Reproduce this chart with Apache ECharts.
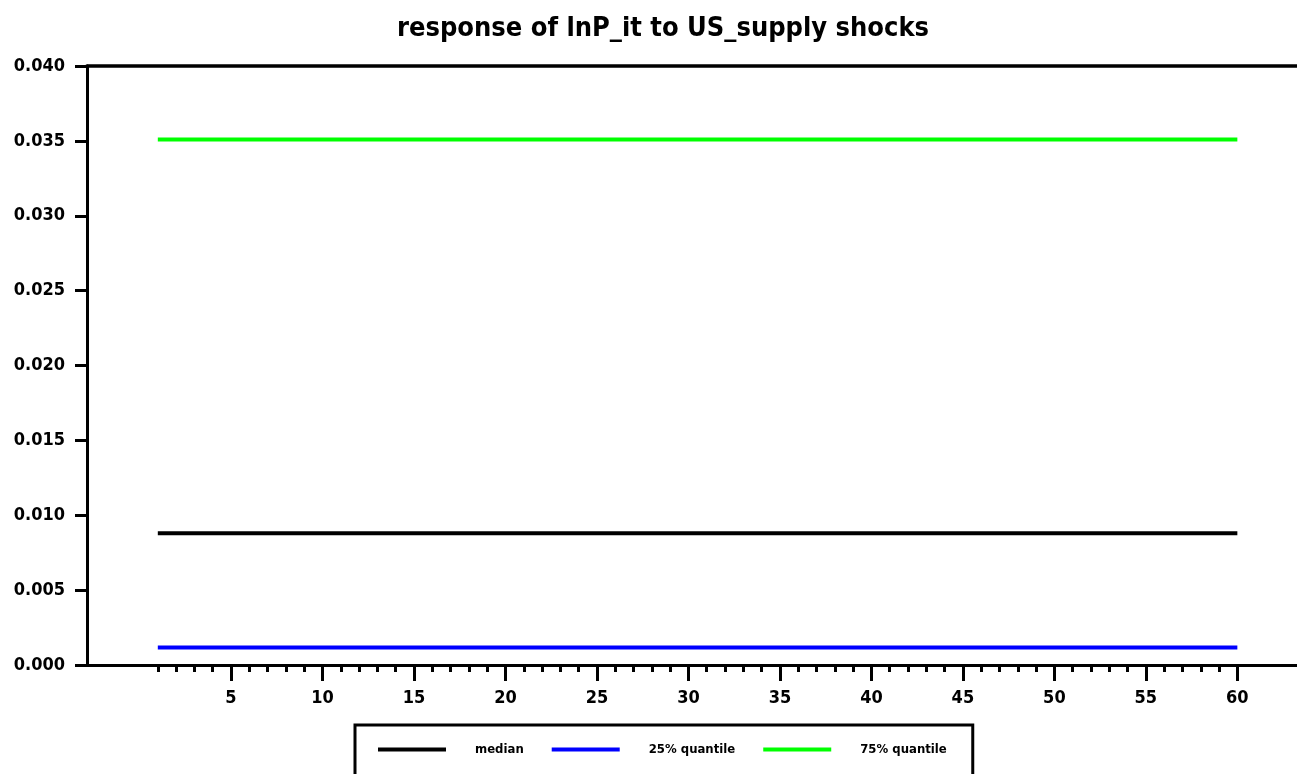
<!DOCTYPE html>
<html>
<head>
<meta charset="utf-8">
<script src="https://cdn.jsdelivr.net/npm/echarts@6/dist/echarts.min.js"></script>
<style>
html,body{margin:0;padding:0;background:#fff;}
#chart{width:1297px;height:774px;}
</style>
</head>
<body>
<div id="chart"></div>
<script>
const titleText = "response of lnP_it to US_supply shocks";
const periods = [1,2,3,4,5,6,7,8,9,10,11,12,13,14,15,16,17,18,19,20,21,22,23,24,25,26,27,28,29,30,31,32,33,34,35,36,37,38,39,40,41,42,43,44,45,46,47,48,49,50,51,52,53,54,55,56,57,58,59,60];
const median = [0.0088,0.0088,0.0088,0.0088,0.0088,0.0088,0.0088,0.0088,0.0088,0.0088,0.0088,0.0088,0.0088,0.0088,0.0088,0.0088,0.0088,0.0088,0.0088,0.0088,0.0088,0.0088,0.0088,0.0088,0.0088,0.0088,0.0088,0.0088,0.0088,0.0088,0.0088,0.0088,0.0088,0.0088,0.0088,0.0088,0.0088,0.0088,0.0088,0.0088,0.0088,0.0088,0.0088,0.0088,0.0088,0.0088,0.0088,0.0088,0.0088,0.0088,0.0088,0.0088,0.0088,0.0088,0.0088,0.0088,0.0088,0.0088,0.0088,0.0088];
const q25 = [0.00117,0.00117,0.00117,0.00117,0.00117,0.00117,0.00117,0.00117,0.00117,0.00117,0.00117,0.00117,0.00117,0.00117,0.00117,0.00117,0.00117,0.00117,0.00117,0.00117,0.00117,0.00117,0.00117,0.00117,0.00117,0.00117,0.00117,0.00117,0.00117,0.00117,0.00117,0.00117,0.00117,0.00117,0.00117,0.00117,0.00117,0.00117,0.00117,0.00117,0.00117,0.00117,0.00117,0.00117,0.00117,0.00117,0.00117,0.00117,0.00117,0.00117,0.00117,0.00117,0.00117,0.00117,0.00117,0.00117,0.00117,0.00117,0.00117,0.00117];
const q75 = [0.0351,0.0351,0.0351,0.0351,0.0351,0.0351,0.0351,0.0351,0.0351,0.0351,0.0351,0.0351,0.0351,0.0351,0.0351,0.0351,0.0351,0.0351,0.0351,0.0351,0.0351,0.0351,0.0351,0.0351,0.0351,0.0351,0.0351,0.0351,0.0351,0.0351,0.0351,0.0351,0.0351,0.0351,0.0351,0.0351,0.0351,0.0351,0.0351,0.0351,0.0351,0.0351,0.0351,0.0351,0.0351,0.0351,0.0351,0.0351,0.0351,0.0351,0.0351,0.0351,0.0351,0.0351,0.0351,0.0351,0.0351,0.0351,0.0351,0.0351];
const seriesNames = ["median", "25% quantile", "75% quantile"];
const majorTicks = [5,10,15,20,25,30,35,40,45,50,55,60];
const minorTicks = [1,2,3,4,6,7,8,9,11,12,13,14,16,17,18,19,21,22,23,24,26,27,28,29,31,32,33,34,36,37,38,39,41,42,43,44,46,47,48,49,51,52,53,54,56,57,58,59];

const FONT = '"Liberation Sans Narrow","DejaVu Sans Condensed","Liberation Sans",sans-serif';
const xMin = -2.87, xMax = 63.26;

const chart = echarts.init(document.getElementById('chart'), null, {renderer:'canvas'});
const mk = (arr) => periods.map((p,i)=>[p, arr[i]]);
const colors = ['#000000','#0000ff','#00ff00'];
chart.setOption({
  animation:false,
  backgroundColor:'#ffffff',
  title:{
    text:titleText, left:392, top:10,
    textStyle:{fontFamily:FONT, fontWeight:'bold', fontSize:27, color:'#000'}
  },
  grid:{left:87, right:0, top:66, bottom:109, containLabel:false},
  legend:{
    data:seriesNames, left:355, top:725, orient:'horizontal',
    icon:'rect', itemWidth:68, itemHeight:4, itemGap:28,
    padding:[18,26,40,23],
    borderColor:'#000', borderWidth:3,
    textStyle:{fontFamily:FONT, fontWeight:'bold', fontSize:13, color:'#000', padding:[0,0,0,24]}
  },
  xAxis:[
    {type:'value', min:xMin, max:xMax, position:'bottom',
     axisLine:{show:true, onZero:false, lineStyle:{color:'#000', width:3}},
     axisTick:{show:true, customValues:majorTicks, length:16, lineStyle:{color:'#000', width:3}},
     axisLabel:{show:true, customValues:majorTicks, margin:24, fontFamily:FONT, fontWeight:'bold', fontSize:18, color:'#000'},
     splitLine:{show:false}},
    {type:'value', min:xMin, max:xMax, position:'bottom', gridIndex:0,
     axisLine:{show:false, onZero:false},
     axisTick:{show:true, customValues:minorTicks, length:7, lineStyle:{color:'#000', width:3}},
     axisLabel:{show:false},
     splitLine:{show:false}},
    {type:'value', min:xMin, max:xMax, position:'top', gridIndex:0,
     axisLine:{show:true, onZero:false, lineStyle:{color:'#000', width:3.5}},
     axisTick:{show:false}, axisLabel:{show:false}, splitLine:{show:false}}
  ],
  yAxis:{
    type:'value', min:0, max:0.04, interval:0.005, position:'left',
    axisLine:{show:true, onZero:false, lineStyle:{color:'#000', width:3}},
    axisTick:{show:true, length:12, lineStyle:{color:'#000', width:3}},
    axisLabel:{margin:22, fontFamily:FONT, fontWeight:'bold', fontSize:18, color:'#000',
      formatter:(v)=>v.toFixed(3)},
    splitLine:{show:false}
  },
  series:[
    {name:seriesNames[0], type:'line', data:mk(median), symbol:'none', lineStyle:{color:colors[0], width:4}, itemStyle:{color:colors[0]}},
    {name:seriesNames[1], type:'line', data:mk(q25), symbol:'none', lineStyle:{color:colors[1], width:4}, itemStyle:{color:colors[1]}},
    {name:seriesNames[2], type:'line', data:mk(q75), symbol:'none', lineStyle:{color:colors[2], width:4}, itemStyle:{color:colors[2]}}
  ]
});
</script>
</body>
</html>
